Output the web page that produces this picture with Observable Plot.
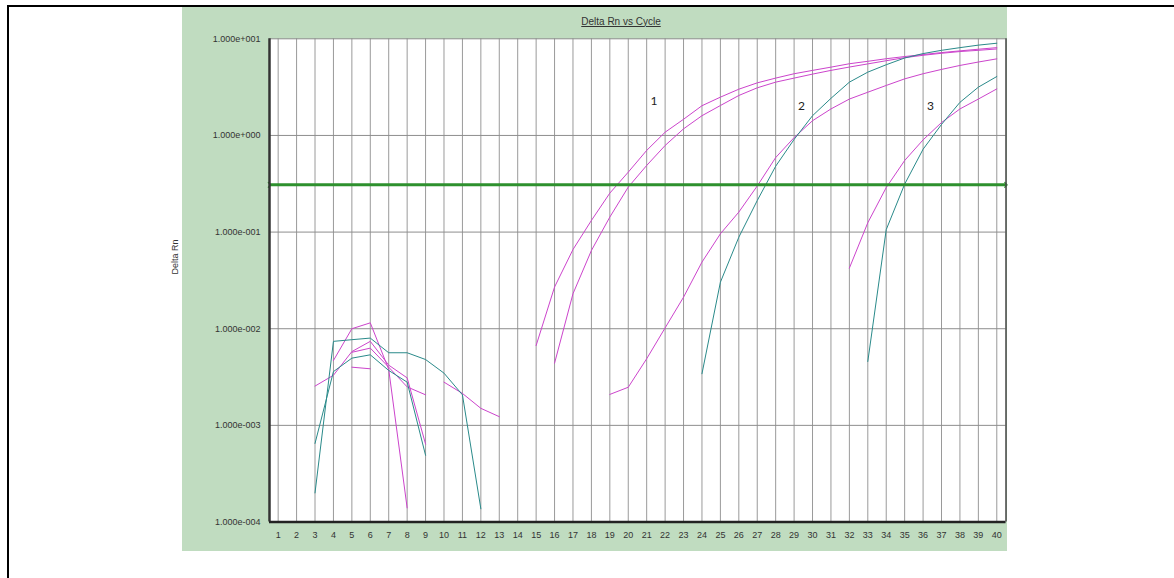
<!DOCTYPE html>
<html>
<head>
<meta charset="utf-8">
<script src="https://cdn.jsdelivr.net/npm/d3@7"></script>
<script src="https://cdn.jsdelivr.net/npm/@observablehq/plot@0.6"></script>
<style>
  html, body { margin: 0; padding: 0; background: #fff; }
  #page { position: relative; width: 1174px; height: 578px; overflow: hidden; background: #fff; }
  #panel { position: absolute; left: 182px; top: 7px; width: 825px; height: 544px; background: #c0dcc0; }
  #topline { position: absolute; left: 7px; top: 5px; width: 1167px; height: 2px; background: #000; }
  #leftline { position: absolute; left: 7px; top: 5px; width: 2px; height: 573px; background: #000; }
  #title { position: absolute; left: 621px; top: 15.5px; transform: translateX(-50%);
           font: 10px/12px "Liberation Sans", Arial, sans-serif; color: #333; text-decoration: underline; white-space: nowrap; }
  #chart { position: absolute; left: 0; top: 0; }
</style>
</head>
<body>
<div id="page">
  <div id="panel"></div>
  <div id="topline"></div>
  <div id="leftline"></div>
  <div id="chart"></div>
  <div id="title">Delta Rn vs Cycle</div>
</div>
<script>
// ---- data ----
const cycles = [1,2,3,4,5,6,7,8,9,10,11,12,13,14,15,16,17,18,19,20,21,22,23,24,25,26,27,28,29,30,31,32,33,34,35,36,37,38,39,40];
const xDomain = [0.53, 40.5];
const yDomain = [1e-4, 10];
const yTicks = [1e-4, 1e-3, 1e-2, 1e-1, 1, 10];
const yTickLabels = ["1.000e-004", "1.000e-003", "1.000e-002", "1.000e-001", "1.000e+000", "1.000e+001"];
const threshold = [0.308];

const well1a = [null,null,null,0.00469,0.0100,0.0115,0.0038,0.00014,null,null,
  null,null,null,null,0.0067,0.027,0.066,0.132,0.253,0.417,
  0.70,1.08,1.47,2.03,2.49,3.01,3.50,3.92,4.35,4.71,
  5.09,5.52,5.85,6.22,6.55,6.87,7.20,7.50,7.80,8.10];
const well1b = [null,null,0.00255,0.0033,0.0058,0.0074,0.0042,0.0031,0.00064,null,
  null,null,null,null,null,0.0044,0.023,0.0645,0.143,0.292,
  0.489,0.787,1.17,1.60,2.04,2.59,3.11,3.56,3.92,4.31,
  4.71,5.10,5.50,5.93,6.38,6.75,7.08,7.38,7.60,7.85];
const well2m = [null,null,null,null,0.0040,0.00385,null,null,null,0.0028,
  0.00214,0.0015,0.00123,null,null,null,null,null,0.00209,0.00248,
  0.00489,0.0102,0.0212,0.0489,0.096,0.161,0.30,0.59,0.95,1.42,
  1.88,2.38,2.80,3.29,3.85,4.35,4.82,5.30,5.75,6.20];
const well3m = [null,null,null,null,0.0057,0.0063,0.0040,0.0025,0.00207,null,
  null,null,null,null,null,null,null,null,null,null,
  null,null,null,null,null,null,null,null,null,null,
  null,0.0424,0.125,0.289,0.55,0.90,1.36,1.88,2.38,3.03];
const well2t = [null,null,0.0002,0.0074,0.0077,0.0080,0.00564,0.00564,0.0048,0.00347,
  0.00207,0.000137,null,null,null,null,null,null,null,null,
  null,null,null,0.00342,0.0303,0.0885,0.212,0.48,0.91,1.60,
  2.42,3.56,4.52,5.39,6.33,7.03,7.60,8.10,8.60,9.00];
const well3t = [null,null,0.00065,0.0036,0.00496,0.00537,0.0037,0.0028,0.00049,null,
  null,null,null,null,null,null,null,null,null,null,
  null,null,null,null,null,null,null,null,null,null,
  null,null,0.00458,0.106,0.313,0.72,1.30,2.20,3.16,4.07];

const wellNames = ["1a","1b","2m","3m","2t","3t"];
const wellValues = [well1a, well1b, well2m, well3m, well2t, well3t];
const wellColors = ["#cc44cc","#cc44cc","#cc44cc","#cc44cc","#2a8a8a","#2a8a8a"];

const curveLabels = ["1","2","3"];
const curveLabelX = [21.4, 29.4, 36.4];
const curveLabelY = [2.24, 2.0, 2.0];

// ---- build ----
const rows = [];
wellValues.forEach((vals, w) => {
  vals.forEach((v, i) => rows.push({cycle: cycles[i], value: v == null ? NaN : v, well: wellNames[w], color: wellColors[w]}));
});
const labelRows = curveLabels.map((t, i) => ({t, x: curveLabelX[i], y: curveLabelY[i]}));
const green = "#2e912e";

const chart = Plot.plot({
  width: 1174, height: 578,
  marginLeft: 269, marginRight: 168.5, marginTop: 38.3, marginBottom: 56.5,
  style: {background: "none", fontFamily: "'Liberation Sans', Arial, sans-serif", fontSize: "9px", color: "#333", overflow: "visible"},
  x: {domain: xDomain},
  y: {type: "log", domain: yDomain},
  color: {type: "identity"},
  marks: [
    Plot.frame({fill: "white", stroke: "none"}),
    Plot.gridX(cycles, {stroke: "#9a9a9a", strokeOpacity: 1}),
    Plot.gridY(yTicks, {stroke: "#8e8e8e", strokeOpacity: 1}),
    Plot.axisX(cycles, {tickSize: 0, tickPadding: 10, label: null, tickFormat: d => String(d)}),
    Plot.axisY(yTicks, {tickSize: 0, tickPadding: 9, label: null,
      tickFormat: d => yTickLabels[yTicks.findIndex(t => Math.abs(Math.log10(t) - Math.log10(d)) < 1e-6)]}),
    Plot.line(rows, {x: "cycle", y: "value", z: "well", stroke: "color", strokeWidth: 1}),
    Plot.ruleY(threshold, {stroke: green, strokeWidth: 3}),
    Plot.link(threshold, {x1: xDomain[0], x2: xDomain[1], y1: d => d, y2: d => d, stroke: green, strokeWidth: 1.2, markerStart: "arrow", markerEnd: "arrow"}),
    Plot.ruleX([xDomain[0]], {stroke: "#333", strokeWidth: 2.5}),
    Plot.ruleX([xDomain[1]], {stroke: "#444", strokeWidth: 1.5}),
    Plot.ruleY([yDomain[0]], {stroke: "#222", strokeWidth: 2.5}),
    Plot.text(labelRows, {x: "x", y: "y", text: "t", fontFamily: "Lato, 'Open Sans', sans-serif", fontSize: 12, fill: "#222"}),
    Plot.text(["Delta Rn"], {frameAnchor: "left", text: d => d, rotate: -90, dx: -94, dy: -6, fontSize: 9, fill: "#333"})
  ]
});
document.getElementById("chart").appendChild(chart);
</script>
</body>
</html>
